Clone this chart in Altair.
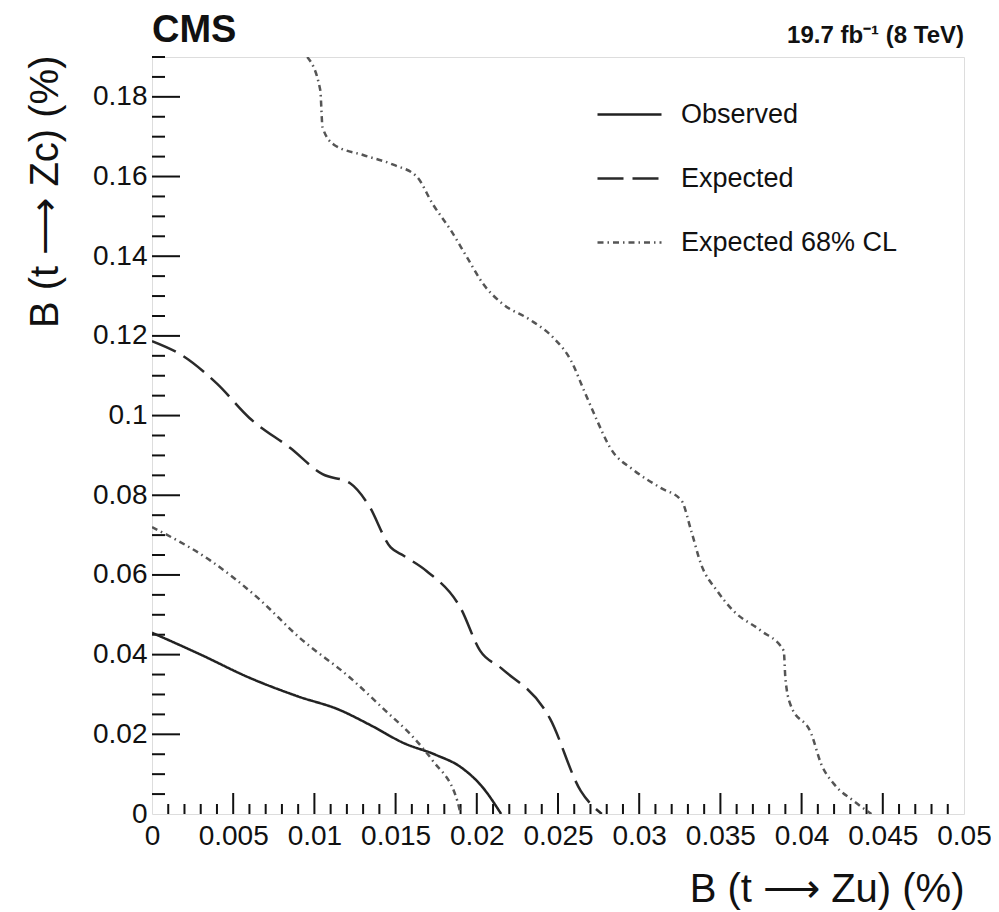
import altair as alt
import pandas as pd

# ---- data (x: B(t->Zu) %, y: B(t->Zc) %) ----
obs_x = [0.0, 0.003, 0.006, 0.009, 0.0115, 0.0135, 0.0155, 0.0175, 0.019, 0.0204, 0.0215]
obs_y = [0.0455, 0.040, 0.0342, 0.0295, 0.0262, 0.0222, 0.0178, 0.0148, 0.0118, 0.0065, 0.0]

exp_x = [0.0, 0.0019, 0.004, 0.006, 0.0085, 0.0105, 0.0122, 0.0133, 0.0147, 0.0155, 0.0169,
         0.019, 0.0202, 0.0215, 0.0245, 0.0264, 0.0277]
exp_y = [0.1187, 0.115, 0.108, 0.0994, 0.0919, 0.0853, 0.083, 0.0778, 0.0669, 0.0648, 0.061,
         0.0517, 0.041, 0.0366, 0.024, 0.0058, 0.0]

inner_x = [0.0, 0.0036, 0.0065, 0.0091, 0.0122, 0.0142, 0.0163, 0.0173, 0.0188, 0.0190]
inner_y = [0.0720, 0.0636, 0.0543, 0.0442, 0.0342, 0.0266, 0.0183, 0.0133, 0.0033, 0.0]

outer_x = [0.00956, 0.01036, 0.0105, 0.0112, 0.013, 0.0149, 0.0163, 0.0173, 0.0184, 0.0194,
           0.0204, 0.0216, 0.0233, 0.0247, 0.0258, 0.0266, 0.0274, 0.0282, 0.0297, 0.0313,
           0.0326, 0.0332, 0.0338, 0.0348, 0.0358, 0.0375, 0.0389, 0.039, 0.0393, 0.0406,
           0.0412, 0.042, 0.0432, 0.0443]
outer_y = [0.19, 0.1817, 0.1724, 0.168, 0.1654, 0.1629, 0.160, 0.153, 0.1465, 0.1397,
           0.133, 0.128, 0.124, 0.1196, 0.1138, 0.1063, 0.0988, 0.092, 0.0862, 0.0819,
           0.0787, 0.0711, 0.0628, 0.056, 0.051, 0.046, 0.041, 0.0342, 0.0276, 0.0201,
           0.0126, 0.0075, 0.0033, 0.0]

series_names = ["Observed", "Expected", "Expected 68% CL"]

x_major = [0.0, 0.005, 0.01, 0.015, 0.02, 0.025, 0.03, 0.035, 0.04, 0.045, 0.05]
x_minor = [i / 1000 for i in range(0, 51) if i % 5 != 0]
y_major = [0.0, 0.02, 0.04, 0.06, 0.08, 0.10, 0.12, 0.14, 0.16, 0.18]
y_minor = [i / 1000 for i in range(0, 191, 5) if i % 20 != 0]

# ---- build table ----
rows = []
for name, curve, xs, ys in [
    ("Observed", "obs", obs_x, obs_y),
    ("Expected", "exp", exp_x, exp_y),
    ("Expected 68% CL", "inner", inner_x, inner_y),
    ("Expected 68% CL", "outer", outer_x, outer_y),
]:
    for i, (a, b) in enumerate(zip(xs, ys)):
        rows.append({"series": name, "curve": curve, "idx": i, "x": a, "y": b})
df = pd.DataFrame(rows)

W, H = 812, 757
FONT = "Liberation Sans"

xscale = alt.Scale(domain=[0, 0.05], nice=False, zero=False)
yscale = alt.Scale(domain=[0, 0.19], nice=False, zero=False)

lines = alt.Chart(df).mark_line(interpolate="monotone", clip=True).encode(
    x=alt.X("x:Q", scale=xscale,
            axis=alt.Axis(values=x_major, format="~g", ticks=False, grid=False,
                          domain=False, labelFont=FONT, labelFontSize=28, labelColor="#111",
                          labelPadding=8, labelFlush=False,
                          title="B (t ⟶ Zu) (%)", titleFont=FONT, titleFontSize=40,
                          titleFontWeight="normal", titleColor="#111",
                          titleAnchor="end", titleAlign="right", titleBaseline="middle",
                          titleX=W, titleY=75)),
    y=alt.Y("y:Q", scale=yscale,
            axis=alt.Axis(values=y_major, format="~g", ticks=False, grid=False,
                          domain=False, labelFont=FONT, labelFontSize=28, labelColor="#111",
                          labelPadding=5, labelFlush=False,
                          title="B (t ⟶ Zc) (%)", titleFont=FONT, titleFontSize=40,
                          titleFontWeight="normal", titleColor="#111",
                          titleAngle=270, titleAlign="right", titleBaseline="middle",
                          titleX=-107, titleY=-2)),
    detail="curve:N",
    order="idx:Q",
    color=alt.Color("series:N",
                    scale=alt.Scale(domain=series_names, range=["#222222", "#2a2a2a", "#555555"]),
                    legend=alt.Legend(title=None, orient="none", legendX=444, legendY=24,
                                      symbolType="stroke", symbolSize=4096,
                                      labelFont=FONT, labelFontSize=27, labelColor="#111",
                                      labelOffset=18, rowPadding=17, labelLimit=0,
                                      symbolStrokeWidth=2.5)),
    strokeDash=alt.StrokeDash("series:N",
                              scale=alt.Scale(domain=series_names,
                                              range=[[1, 0], [26, 9], [6, 4, 1.5, 4]]),
                              legend=None),
    strokeWidth=alt.StrokeWidth("series:N",
                                scale=alt.Scale(domain=series_names, range=[2.5, 2.5, 2.0]),
                                legend=None),
)

def tick_df(vals):
    return pd.DataFrame({"v": vals})

xmaj = alt.Chart(tick_df(x_major[1:-1])).mark_rule(color="#111", strokeWidth=2).encode(
    x=alt.X("v:Q", scale=xscale), y=alt.value(H), y2=alt.value(H - 21))
xmin = alt.Chart(tick_df(x_minor)).mark_rule(color="#111", strokeWidth=2).encode(
    x=alt.X("v:Q", scale=xscale), y=alt.value(H), y2=alt.value(H - 10))
ymaj = alt.Chart(tick_df(y_major[1:])).mark_rule(color="#111", strokeWidth=2).encode(
    y=alt.Y("v:Q", scale=yscale), x=alt.value(0), x2=alt.value(28))
ymin = alt.Chart(tick_df(y_minor)).mark_rule(color="#111", strokeWidth=2).encode(
    y=alt.Y("v:Q", scale=yscale), x=alt.value(0), x2=alt.value(13))

lumi = alt.Chart(pd.DataFrame({"t": ["19.7 fb⁻¹ (8 TeV)"]})).mark_text(
    align="right", baseline="alphabetic", font=FONT, fontSize=24, fontWeight="bold",
    color="#111").encode(x=alt.value(W), y=alt.value(-14), text="t:N")

cms = alt.Chart(pd.DataFrame({"t": ["CMS"]})).mark_text(
    align="left", baseline="alphabetic", font=FONT, fontSize=38, fontWeight="bold",
    color="#111").encode(x=alt.value(0), y=alt.value(-15), text="t:N")

chart = alt.layer(xmin, xmaj, ymin, ymaj, lines, lumi, cms).properties(
    width=W, height=H,
    autosize=alt.AutoSizeParams(type="none"),
    padding={"left": 144, "top": 49, "right": 27, "bottom": 96},
).configure_view(stroke="#111", strokeWidth=2.5).configure(background="white")

chart.save("out.html", embed_options={"renderer": "svg", "actions": False})
